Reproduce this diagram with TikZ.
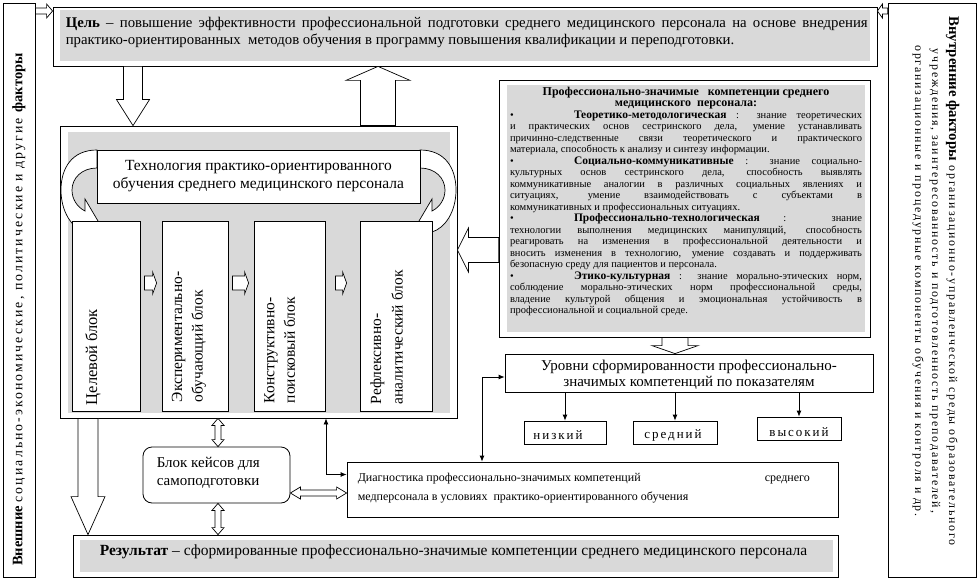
\documentclass[tikz,border=0pt]{standalone}
\usepackage{fontspec}
\setmainfont{Liberation Serif}
\newfontfamily\spacedfont[LetterSpace=15]{Liberation Serif}
\usepackage{tikz}
\usetikzlibrary{calc,fit,arrows.meta}
\usepackage{xcolor}
\definecolor{panelc}{HTML}{D9D9D9}
\definecolor{linec}{HTML}{000000}

\newcommand\sz[2]{\fontsize{#1pt}{#2pt}\selectfont}
\newcommand\jline[2]{\makebox[#1][s]{#2}}
\newcommand\hd[1]{{\bfseries\sz{11.5}{11.5}#1}}

% open block arrow: from, to, half shaft, half head, head length
\newcommand\fatarrow[5]{%
  \path #1 coordinate (faS) #2 coordinate (faE);
  \path ($(faE)!#5!(faS)$) coordinate (faH);
  \draw[arrowline] ($(faS)!#3!90:(faE)$) -- ($(faH)!#3!90:(faE)$) -- ($(faH)!#4!90:(faE)$)
    -- (faE) -- ($(faH)!#4!-90:(faE)$) -- ($(faH)!#3!-90:(faE)$) -- ($(faS)!#3!-90:(faE)$) -- cycle;
}
% open double arrow, same arguments
\newcommand\dblarrow[5]{%
  \path #1 coordinate (daA) #2 coordinate (daB);
  \path ($(daA)!#5!(daB)$) coordinate (daP) ($(daB)!#5!(daA)$) coordinate (daQ);
  \draw[arrowline] (daA) -- ($(daP)!#4!90:(daB)$) -- ($(daP)!#3!90:(daB)$) -- ($(daQ)!#3!90:(daB)$)
    -- ($(daQ)!#4!90:(daB)$) -- (daB) -- ($(daQ)!#4!-90:(daB)$) -- ($(daQ)!#3!-90:(daB)$)
    -- ($(daP)!#3!-90:(daB)$) -- ($(daP)!#4!-90:(daB)$) -- cycle;
}

\tikzset{
  panel/.style={draw=linec, line width=0.8pt, fill=white, inner sep=0pt},
  greyfill/.style={fill=panelc},
  arrowline/.style={draw=linec, line width=0.7pt, fill=white, line join=miter},
  txt/.style={inner sep=0pt, align=left},
  link/.style={draw=linec, line width=0.8pt, -{Latex[length=6pt,width=5pt]}},
  linkboth/.style={draw=linec, line width=0.8pt, {Latex[length=6pt,width=5pt]}-{Latex[length=6pt,width=5pt]}},
}

\begin{document}
\begin{tikzpicture}[x=1pt,y=-1pt]
  \useasboundingbox (0,0) rectangle (979,580);
  \fill[white] (0,0) rectangle (979,580);

  % ==========================================================
  %                     PARAMETERS
  % ==========================================================
  \def\goalw{802pt}      % justified width of the goal line
  \def\compw{352pt}      % text width in the competence panel
  \def\bulw{64pt}        % bullet indent

  \coordinate (dncol)   at (133,0);
  \coordinate (upcol)   at (378,0);
  \coordinate (rescol)  at (88,0);
  \coordinate (casecol) at (218,0);
  \coordinate (diagcol) at (326,0);
  \coordinate (lvlcol)  at (675,0);
  \coordinate (linkcol) at (482,0);
  \coordinate (toprow)  at (0,11);
  \coordinate (comprow) at (0,250);
  \coordinate (arow)    at (0,283);
  \coordinate (dblrow)  at (0,493);

  % ==========================================================
  %                     FACTORS (sides)
  % ==========================================================
  \node[panel, fit={(3,3) (35,577)}] (extf) {};
  \node[txt, rotate=90, anchor=west] (exttext) at (19,566)
    {\sz{14.5}{16}\textbf{Внешние} {\spacedfont\sz{13.8}{16}социально-экономические, политические и другие} \textbf{факторы}};

  \node[panel, fit={(888,3) (976,577)}] (intf) {};
  \node[txt, rotate=-90, align=center, font=\spacedfont\sz{11.9}{17}] (inttext) at (936,281)
    {{\rmfamily\bfseries\sz{14.8}{17}Внутренние факторы} организационно-управленческой среды образовательного\\
     учреждения, заинтересованность и подготовленность преподавателей,\\
     организационные и процедурные компоненты обучения и контроля и др.};

  % ==========================================================
  %                     GOAL
  % ==========================================================
  \node[panel, fit={(53,7) (877,66)}] (goal) {};
  \fill[greyfill] ($(goal.north west)+(7,3)$) rectangle ($(goal.south east)+(-7,-5)$);
  \node[txt, anchor=north west, font=\sz{14.8}{17}] (goaltext) at ($(goal.north west)+(13,10)$)
    {\jline{\goalw}{\textbf{Цель} – повышение эффективности профессиональной подготовки среднего медицинского персонала на основе внедрения}\\
     практико-ориентированных\ \ методов обучения в программу повышения\ квалификации\ и переподготовки.};

  % ==========================================================
  %                     TECHNOLOGY
  % ==========================================================
  \node[panel, fit={(60,126) (457,418)}] (central) {};
  \fill[greyfill] ($(central.north west)+(8,6)$) rectangle ($(central.south east)+(-7,-5)$);

  % curved arrows round the title
  \def\bendpath{(97,150) .. controls (72,150) and (61,168) .. (61,190)
    .. controls (61,212) and (72,228) .. (85,232) -- (85,243) -- (98,221) -- (85,199) -- (85,211)
    .. controls (77,207) and (72,199) .. (72,190) .. controls (72,178) and (82,168) .. (97,168) -- cycle}
  \draw[arrowline] \bendpath;
  \begin{scope}[xshift=517pt, xscale=-1]
    \draw[arrowline] \bendpath;
  \end{scope}

  \node[panel, fit={(97,150) (420,203)}] (tech) {};
  \node[txt, align=center, font=\sz{15.5}{18}] (techtext) at (tech.center)
    {Технология практико-ориентированного\\обучения среднего медицинского персонала};

  \node[panel, fit={(72,221) (140,411)}]  (b1) {};
  \node[panel, fit={(162,221) (228,411)}] (b2) {};
  \node[panel, fit={(254,221) (325,411)}] (b3) {};
  \node[panel, fit={(360,221) (432,411)}] (b4) {};

  \node[txt, rotate=90, anchor=north west, font=\sz{16.5}{20.5}] (b1text) at ($(b1.south west)+(13.5,-6)$)
    {Целевой блок};
  \node[txt, rotate=90, anchor=north west, font=\sz{15.5}{20.5}] (b2text) at ($(b2.south west)+(10,-9)$)
    {Экспериментально-\\обучающий блок};
  \node[txt, rotate=90, anchor=north west, font=\sz{15.5}{20.5}] (b3text) at ($(b3.south west)+(10.5,-8)$)
    {Конструктивно-\\поисковый блок};
  \node[txt, rotate=90, anchor=north west, font=\sz{15.5}{21.5}] (b4text) at ($(b4.south west)+(10.5,-7)$)
    {Рефлексивно-\\аналитический блок};

  \fatarrow{($(b1.east |- arow)+(4,0)$)}{($(b2.west |- arow)+(-5,0)$)}{7pt}{11pt}{4pt}
  \fatarrow{($(b2.east |- arow)+(4,0)$)}{($(b3.west |- arow)+(-5,0)$)}{7pt}{11pt}{4pt}
  \fatarrow{($(b3.east |- arow)+(10,0)$)}{($(b4.west |- arow)+(-13,0)$)}{7pt}{11pt}{4pt}

  % ==========================================================
  %                     COMPETENCES
  % ==========================================================
  \node[panel, fit={(499,80) (870,337)}] (comp) {};
  \fill[greyfill] ($(comp.north west)+(8,5)$) rectangle ($(comp.south east)+(-5,-5)$);
  \node[txt, anchor=north, font=\sz{10.5}{11.5}] (comptext) at ($(comp.north)+(1.5,7)$)
    {\makebox[\compw][c]{\bfseries\sz{12}{11.5}Профессионально-значимые\ \ \ компетенции среднего}\\
     \makebox[\compw][c]{\bfseries\sz{12}{11.5}медицинского\ \ персонала:}\\
     \jline{\compw}{\makebox[\bulw][l]{\textbullet}\hd{Теоретико-методологическая} : знание теоретических}\\
     \jline{\compw}{и практических основ сестринского дела, умение устанавливать}\\
     \jline{\compw}{причинно-следственные связи теоретического и практического}\\
     материала, способность к анализу и синтезу информации.\\
     \jline{\compw}{\makebox[\bulw][l]{\textbullet}\hd{Социально-коммуникативные} : знание социально-}\\
     \jline{\compw}{культурных основ сестринского дела, способность выявлять}\\
     \jline{\compw}{коммуникативные аналогии в различных социальных явлениях и}\\
     \jline{\compw}{ситуациях, умение взаимодействовать с субъектами в}\\
     коммуникативных и профессиональных ситуациях.\\
     \jline{\compw}{\makebox[\bulw][l]{\textbullet}\hd{Профессионально-технологическая} : знание}\\
     \jline{\compw}{технологии выполнения медицинских манипуляций, способность}\\
     \jline{\compw}{реагировать на изменения в профессиональной деятельности и}\\
     \jline{\compw}{вносить изменения в технологию, умение создавать и поддерживать}\\
     безопасную среду для пациентов и персонала.\\
     \jline{\compw}{\makebox[\bulw][l]{\textbullet}\hd{Этико-культурная} : знание морально-этических норм,}\\
     \jline{\compw}{соблюдение морально-этических норм профессиональной среды,}\\
     \jline{\compw}{владение культурой общения и эмоциональная устойчивость в}\\
     профессиональной и социальной среде.};

  % ==========================================================
  %                     LEVELS
  % ==========================================================
  \node[panel, fit={(505,354) (873,392)}] (levels) {};
  \node[txt, align=center, font=\sz{15}{16}] (levelstext) at ($(levels.center)+(0,2)$)
    {Уровни сформированности профессионально-\\значимых компетенций по показателям};
  \node[panel, fit={(524,421) (606,444)}] (low)  {};
  \node[panel, fit={(633,421) (717,444)}] (mid)  {};
  \node[panel, fit={(757,417) (841,440)}] (high) {};
  \node[txt, font=\spacedfont\sz{13}{14}] (lowtext)  at ($(low.center)+(-7,3)$)  {низкий};
  \node[txt, font=\spacedfont\sz{13}{14}] (midtext)  at ($(mid.center)+(-2,3)$)  {средний};
  \node[txt, font=\spacedfont\sz{13}{14}] (hightext) at ($(high.center)+(0,4)$)  {высокий};

  \draw[link] (levels.south -| low.north)  -- (low.north);
  \draw[link] (levels.south -| mid.north)  -- (mid.north);
  \draw[link] (levels.south -| high.north) -- (high.north);

  % ==========================================================
  %                     CASES, DIAGNOSTICS, RESULT
  % ==========================================================
  \node[panel, rounded corners=9pt, fit={(143,447) (290,503)}] (cases) {};
  \node[txt, anchor=north west, font=\sz{15}{18}] (casestext) at ($(cases.north west)+(14,10)$)
    {Блок кейсов для\\самоподготовки};

  \node[panel, fit={(347,462) (838,517)}] (diag) {};
  \node[txt, anchor=north west, font=\sz{12}{19}] (diagtext) at ($(diag.north west)+(11,11)$)
    {\makebox[452pt][l]{Диагностика профессионально-значимых компетенций\hfill среднего}\\
     медперсонала в условиях\ \ практико-ориентированного обучения};

  \node[panel, fit={(73,535) (838,577)}] (result) {};
  \fill[greyfill] ($(result.north west)+(7,5)$) rectangle ($(result.south east)+(-5,-5)$);
  \node[txt, anchor=north west, font=\sz{15.5}{18}] (resulttext) at ($(result.north west)+(27,10)$)
    {\textbf{Результат} – сформированные профессионально-значимые компетенции среднего медицинского персонала};

  % ==========================================================
  %                     ARROWS
  % ==========================================================
  \fatarrow{(extf.east |- toprow)}{(goal.west |- toprow)}{3pt}{7pt}{6pt}
  \fatarrow{(intf.west |- toprow)}{(goal.east |- toprow)}{3pt}{7pt}{5pt}
  \fatarrow{(goal.south -| dncol)}{(central.north -| dncol)}{9.5pt}{16.5pt}{26pt}
  \fatarrow{(central.north -| upcol)}{(goal.south -| upcol)}{17.5pt}{32pt}{14pt}
  \fatarrow{(comp.west |- comprow)}{(central.east |- comprow)}{12.5pt}{22pt}{11pt}
  \fatarrow{(comp.south -| lvlcol)}{(levels.north -| lvlcol)}{13pt}{23pt}{8pt}
  \fatarrow{(central.south -| rescol)}{(result.north -| rescol)}{10pt}{17pt}{38pt}

  \dblarrow{(central.south -| casecol)}{(cases.north -| casecol)}{3pt}{6pt}{7pt}
  \dblarrow{(cases.south -| casecol)}{(result.north -| casecol)}{3pt}{6pt}{7pt}
  \dblarrow{(cases.east |- dblrow)}{(diag.west |- dblrow)}{3pt}{6pt}{10pt}

  \draw[linkboth] ($(levels.west)+(0,4)$) -| (linkcol |- diag.north);
  \draw[linkboth] (central.south -| diagcol) |- ($(diag.west)+(0,-15)$);

\end{tikzpicture}
\end{document}
